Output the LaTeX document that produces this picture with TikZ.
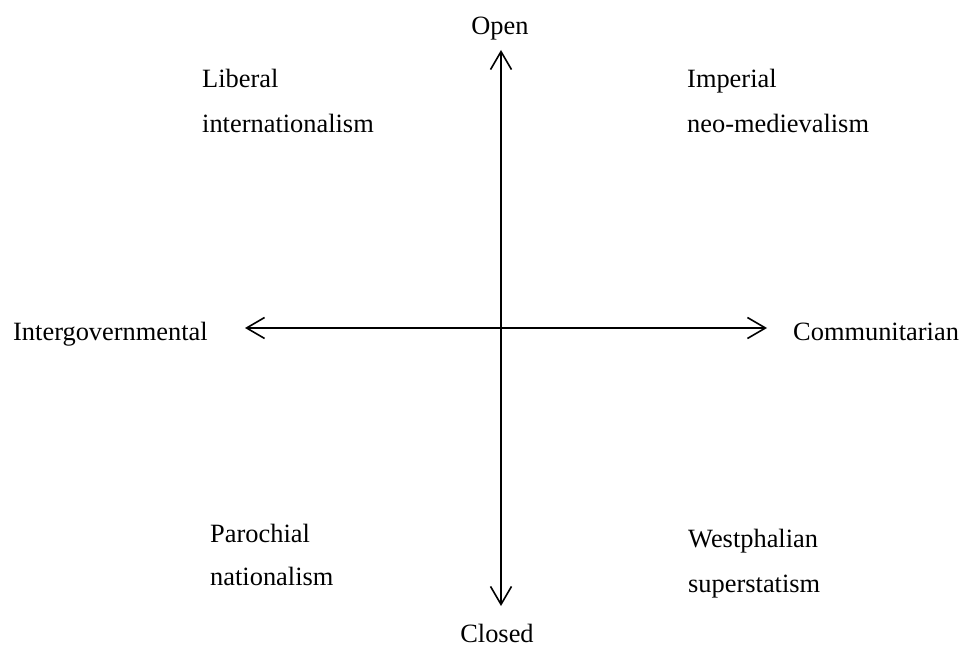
\documentclass[tikz,border=0pt]{standalone}
\usepackage{fontspec}
\setmainfont{Liberation Serif}
\usetikzlibrary{arrows.meta}
\begin{document}
\begin{tikzpicture}[x=1pt,y=1pt,
  lbl/.style={inner sep=0pt,font=\fontsize{26.4}{31}\selectfont},
  lw/.style={lbl,anchor=base west},
  barb/.tip={Straight Barb[length=18pt,width=21pt,line width=1.6pt]},
  axis/.style={line width=1.6pt,barb-barb}]
\useasboundingbox (0,0) rectangle (963,648);
% axis end points
\coordinate (W) at (245,320);
\coordinate (E) at (767,320);
\coordinate (N) at (501,598);
\coordinate (S) at (501,42);
\draw[axis] (W) -- (E);
\draw[axis] (S) -- (N);
% axis labels
\node[lbl,anchor=base] (open) at (500,613) {Open};
\node[lbl,anchor=base] (closed) at (497,6) {Closed};
\node[lw] (inter) at (13,307) {Intergovernmental};
\node[lw] (comm) at (793,307) {Communitarian};
% quadrant labels
\node[lw] (lib1) at (202,560) {Liberal};
\node[lw] (lib2) at (202,515) {internationalism};
\node[lw] (imp1) at (687,560) {Imperial};
\node[lw] (imp2) at (687,515) {neo-medievalism};
\node[lw] (par1) at (210,106) {Parochial};
\node[lw] (par2) at (210,63) {nationalism};
\node[lw] (wes1) at (688,101) {Westphalian};
\node[lw] (wes2) at (688,56) {superstatism};
\end{tikzpicture}
\end{document}
